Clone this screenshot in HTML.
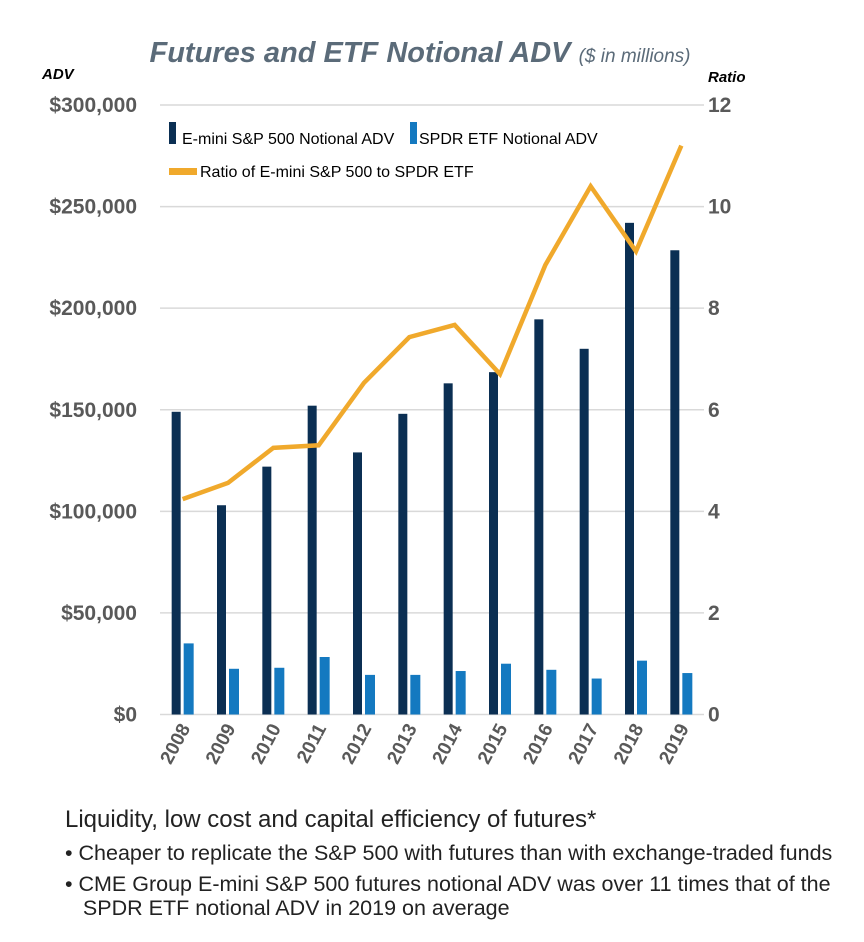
<!DOCTYPE html>
<html><head><meta charset="utf-8">
<style>
body{margin:0;background:#fff;width:864px;height:942px;overflow:hidden;font-family:"Liberation Sans",sans-serif;}
svg text{font-family:"Liberation Sans",sans-serif;}
.notes{position:absolute;left:65px;top:806px;color:#222;}
</style></head>
<body>
<svg id="chart" width="864" height="800" style="position:absolute;left:0;top:0">
  <text x="420" y="62" text-anchor="middle" fill="#5b6b79" font-weight="bold" font-style="italic" font-size="29">Futures and ETF Notional ADV <tspan font-weight="normal" font-size="19">($ in millions)</tspan></text>
  <text x="42" y="79" font-weight="bold" font-style="italic" font-size="15" fill="#000">ADV</text>
  <text x="708" y="82" font-weight="bold" font-style="italic" font-size="15" fill="#000">Ratio</text>
  <g id="grid"></g><g id="bars"></g><g id="line"></g><g id="axes"></g>
  <g>
    <rect x="169" y="122" width="7" height="22" fill="#0b2f53"/>
    <text x="182" y="144" font-size="16" fill="#000">E-mini S&amp;P 500 Notional ADV</text>
    <rect x="410" y="122" width="7" height="22" fill="#1479c0"/>
    <text x="419" y="144" font-size="16" fill="#000">SPDR ETF Notional ADV</text>
    <rect x="169" y="168" width="28" height="7" fill="#f0a92c"/>
    <text x="200" y="177" font-size="16" fill="#000">Ratio of E-mini S&amp;P 500 to SPDR ETF</text>
  </g>
</svg>
<div class="notes">
  <div style="font-size:24px;line-height:28px;">Liquidity, low cost and capital efficiency of futures*</div>
  <div style="font-size:21.5px;margin-top:7px;line-height:24px;">• Cheaper to replicate the S&amp;P 500 with futures than with exchange-traded funds</div>
  <div style="font-size:21.5px;margin-top:7px;line-height:24px;">• CME Group E-mini S&amp;P 500 futures notional ADV was over 11 times that of the<br>&nbsp;&nbsp;&nbsp;SPDR ETF notional ADV in 2019 on average</div>
</div>
<script>
const years=["2008","2009","2010","2011","2012","2013","2014","2015","2016","2017","2018","2019"];
const emini=[149000,103000,122000,152000,129000,148000,163000,168500,194500,180000,242000,228500];
const spdr=[35000,22500,23000,28300,19500,19500,21400,25000,22000,17700,26500,20400];
const ratio=[4.24,4.56,5.25,5.3,6.53,7.43,7.67,6.7,8.85,10.4,9.12,11.2];
const leftTicks=[0,50000,100000,150000,200000,250000,300000];
const leftLabels=["$0","$50,000","$100,000","$150,000","$200,000","$250,000","$300,000"];
const rightTicks=[0,2,4,6,8,10,12];

const NS="http://www.w3.org/2000/svg";
const X0=160,X1=704,Y0=714.5,Y1=105;
const bw=(X1-X0)/years.length;
const yL=v=>Y0-(v/300000)*(Y0-Y1);
const yR=v=>Y0-(v/12)*(Y0-Y1);
const xc=i=>X0+bw*(i+0.5);
function mk(t,a,p){const e=document.createElementNS(NS,t);for(const k in a)e.setAttribute(k,a[k]);document.getElementById(p).appendChild(e);return e;}

leftTicks.forEach((v,i)=>{
  const g=mk('line',{x1:X0,x2:X1,y1:yL(v),y2:yL(v),stroke:'#d9d9d9','stroke-width':1.5},'grid');
  
  
  const t=mk('text',{x:137,y:yL(v)+7,'text-anchor':'end','font-size':21,'font-weight':'bold',fill:'#595959'},'axes');
  t.textContent=leftLabels[i];
  
  
});
rightTicks.forEach(v=>{
  const t=mk('text',{x:708,y:yR(v)+7,'font-size':21,'font-weight':'bold',fill:'#595959'},'axes');
  t.textContent=v;
  
  
});
years.forEach((y,i)=>{
  const c=xc(i);
  const b1=mk('rect',{x:c-11,y:yL(emini[i]),width:9,height:Y0-yL(emini[i]),fill:'#0b2f53'},'bars');
  
  
  const b2=mk('rect',{x:c+1,y:yL(spdr[i]),width:10,height:Y0-yL(spdr[i]),fill:'#1479c0'},'bars');
  
  
  const t=mk('text',{x:c+8,y:728,'text-anchor':'end','font-size':19,'font-weight':'bold',fill:'#595959',transform:`rotate(-62 ${c+8} 728)`},'axes');
  t.textContent=y;
  
  
});
const pl=mk('polyline',{points:ratio.map((v,i)=>xc(i)+','+yR(v)).join(' '),fill:'none',stroke:'#f0a92c','stroke-width':4.5,'stroke-linejoin':'miter'},'line');


</script>
</body></html>
